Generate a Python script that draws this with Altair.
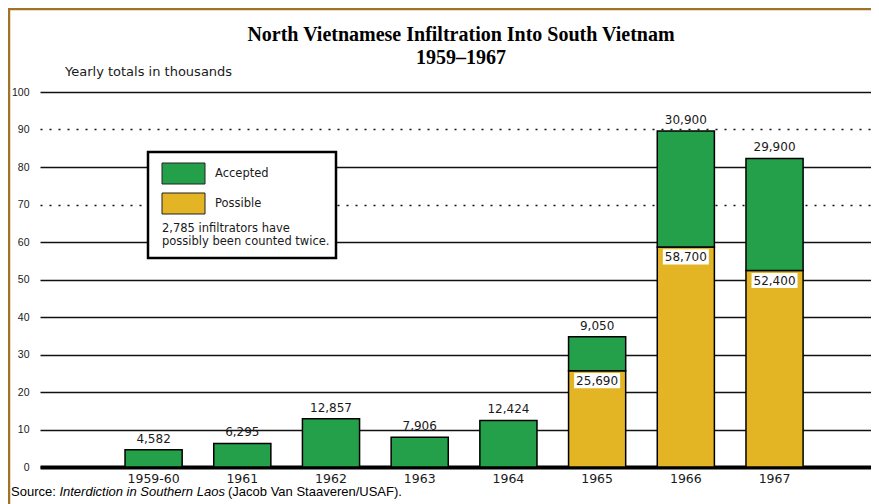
import altair as alt
import pandas as pd

# ---------------- data ----------------
years = ["1959-60", "1961", "1962", "1963", "1964", "1965", "1966", "1967"]
accepted = [4582, 6295, 12857, 7906, 12424, 9050, 30900, 29900]
possible = [0, 0, 0, 0, 0, 25690, 58700, 52400]
series = ["Accepted", "Possible"]
series_colors = ["#24a04b", "#e3b424"]
y_ticks = [0, 10, 20, 30, 40, 50, 60, 70, 80, 90, 100]
title_lines = ["North Vietnamese Infiltration Into South Vietnam", "1959\u20131967"]
y_title = "Yearly totals in thousands"
note_lines = ["2,785 infiltrators have", "possibly been counted twice."]
source_parts = ["Source:", "Interdiction in Southern Laos", "(Jacob Van Staaveren/USAF)."]

rows = []
for yr, a, p in zip(years, accepted, possible):
    if p:
        rows.append({"year": yr, "series": "Possible", "value": p / 1000, "ord": 0})
    rows.append({"year": yr, "series": "Accepted", "value": a / 1000, "ord": 1})
bars_df = pd.DataFrame(rows)

acc_lab = pd.DataFrame({
    "year": years,
    "total": [(a + p) / 1000 for a, p in zip(accepted, possible)],
    "label": [f"{a:,}" for a in accepted],
})
pos_lab = pd.DataFrame({
    "year": [y for y, p in zip(years, possible) if p],
    "top": [p / 1000 for p in possible if p],
    "label": [f"{p:,}" for p in possible if p],
})
one = pd.DataFrame({"k": [0]})

# ---------------- scales / axes ----------------
INK = "#1a1a1a"
BROWN = "#a3722a"
xscale = alt.Scale(domain=years, range=[0, 831], paddingInner=0.356, paddingOuter=0.862, align=0.556)
yscale = alt.Scale(domain=[0, 100], nice=False)
xaxis = alt.Axis(title=None, labelAngle=0, ticks=False, domain=True, domainColor="#000",
                 domainWidth=4, labelPadding=5, labelFont="DejaVu Sans", labelFontSize=12.5,
                 labelColor=INK)
yaxis = alt.Axis(title=None, values=y_ticks, domain=False, ticks=False, grid=True,
                 gridColor="#111111", gridWidth=1.4,
                 gridDash=alt.condition("datum.value == 90 || datum.value == 70",
                                        alt.value([2, 7]), alt.value([])),
                 labelAlign="right", labelPadding=11, labelFont="Liberation Sans",
                 labelFontSize=10.5, labelColor=INK)


def X(field="year"):
    return alt.X(f"{field}:N", scale=xscale, axis=xaxis, sort=years)


def Y(field, stack=None):
    if stack is None:
        return alt.Y(f"{field}:Q", scale=yscale, axis=yaxis)
    return alt.Y(f"{field}:Q", scale=yscale, axis=yaxis, stack=stack)


bars = alt.Chart(bars_df).mark_bar(stroke="#000", strokeWidth=1.5).encode(
    x=X(),
    y=Y("value", stack="zero"),
    color=alt.Color("series:N", scale=alt.Scale(domain=series, range=series_colors), legend=None),
    order=alt.Order("ord:Q", sort="ascending"),
)

acc_text = alt.Chart(acc_lab).mark_text(dy=-11, font="DejaVu Sans", fontSize=12, color=INK).encode(
    x=X(), y=Y("total"), text="label:N"
)

pos_box = alt.Chart(pos_lab).mark_point(
    shape="M-1,-0.33H1V0.33H-1Z", size=2116, filled=True, color="white", opacity=1,
    strokeWidth=0, yOffset=10
).encode(x=X(), y=Y("top"))

pos_text = alt.Chart(pos_lab).mark_text(dy=10, font="DejaVu Sans", fontSize=12, color=INK).encode(
    x=X(), y=Y("top"), text="label:N"
)

# ---------------- frame ----------------
frame_top = alt.Chart(one).mark_rule(color=BROWN, strokeWidth=2.5).encode(
    x=alt.value(-32), x2=alt.value(840), y=alt.value(-83)
)
frame_left = alt.Chart(one).mark_rule(color=BROWN, strokeWidth=2.5).encode(
    x=alt.value(-31), y=alt.value(-84), y2=alt.value(412)
)

# ---------------- legend ----------------
leg_box = alt.Chart(one).mark_rect(fill="white", stroke="#000", strokeWidth=2.5).encode(
    x=alt.value(108), x2=alt.value(296), y=alt.value(60), y2=alt.value(166)
)
sw_acc = alt.Chart(one).mark_rect(fill=series_colors[0], stroke="#222", strokeWidth=1).encode(
    x=alt.value(122), x2=alt.value(165), y=alt.value(71), y2=alt.value(92)
)
sw_pos = alt.Chart(one).mark_rect(fill=series_colors[1], stroke="#222", strokeWidth=1).encode(
    x=alt.value(122), x2=alt.value(165), y=alt.value(101), y2=alt.value(122)
)
txt_style = dict(align="left", baseline="middle", font="DejaVu Sans", fontSize=11.5, color=INK)
lab_acc = alt.Chart(one).mark_text(text=series[0], **txt_style).encode(x=alt.value(175), y=alt.value(81.5))
lab_pos = alt.Chart(one).mark_text(text=series[1], **txt_style).encode(x=alt.value(175), y=alt.value(111.5))
note1 = alt.Chart(one).mark_text(text=note_lines[0], **txt_style).encode(x=alt.value(122), y=alt.value(137))
note2 = alt.Chart(one).mark_text(text=note_lines[1], **txt_style).encode(x=alt.value(122), y=alt.value(150))

# ---------------- titles ----------------
title_style = dict(align="center", baseline="middle", font="Liberation Serif", fontSize=20,
                   fontWeight="bold", color="#000")
t1 = alt.Chart(one).mark_text(text=title_lines[0], **title_style).encode(x=alt.value(421), y=alt.value(-57))
t2 = alt.Chart(one).mark_text(text=title_lines[1], **title_style).encode(x=alt.value(421), y=alt.value(-34))
ytitle = alt.Chart(one).mark_text(text=y_title, align="left", baseline="middle", font="DejaVu Sans",
                                  fontSize=13, color=INK).encode(x=alt.value(25), y=alt.value(-20))

src_style = dict(align="left", baseline="middle", font="Liberation Sans", fontSize=13, color="#000")
s1 = alt.Chart(one).mark_text(text=source_parts[0], **src_style).encode(x=alt.value(-29), y=alt.value(400))
s2 = alt.Chart(one).mark_text(text=source_parts[1], fontStyle="italic", **src_style).encode(
    x=alt.value(19.4), y=alt.value(400))
s3 = alt.Chart(one).mark_text(text=source_parts[2], **src_style).encode(x=alt.value(188), y=alt.value(400))

chart = alt.layer(
    bars, acc_text, pos_box, pos_text,
    frame_top, frame_left,
    leg_box, sw_acc, sw_pos, lab_acc, lab_pos, note1, note2,
    t1, t2, ytitle, s1, s2, s3,
).properties(
    width=831, height=375,
    autosize=alt.AutoSizeParams(type="none"),
    padding={"left": 32, "top": 84, "right": 0, "bottom": 37},
    background="white",
).configure_view(stroke=None)

chart.save("out.html", embed_options={"renderer": "svg", "actions": False})
